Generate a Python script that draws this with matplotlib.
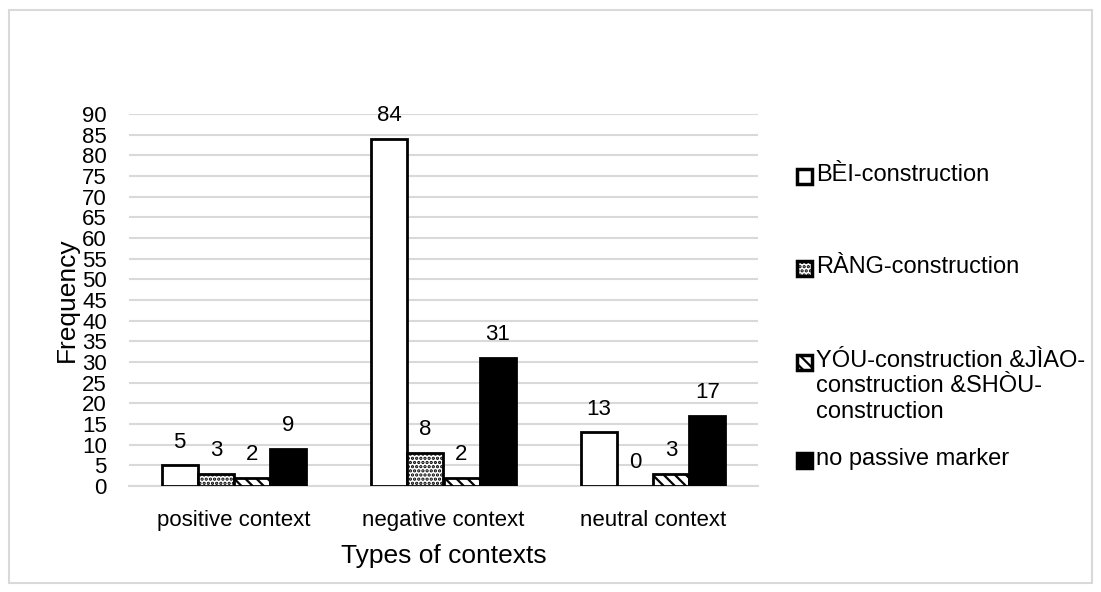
import matplotlib
matplotlib.use("Agg")
import matplotlib.pyplot as plt
from matplotlib.patches import Rectangle
import numpy as np

categories = ["positive context", "negative context", "neutral context"]
series_names = ["BÈI-construction", "RÀNG-construction",
                "YÓU-construction &JÌAO-\nconstruction &SHÒU-\nconstruction",
                "no passive marker"]
bei = [5, 84, 13]
rang = [3, 8, 0]
you = [2, 2, 3]
none_ = [9, 31, 17]
yticks = list(range(0, 95, 5))

plt.rcParams['font.family'] = ['Liberation Sans', 'DejaVu Sans']
plt.rcParams['hatch.linewidth'] = 1.6

W, H = 1101, 592
fig = plt.figure(figsize=(W / 100, H / 100), dpi=100)
ax = fig.add_axes([129 / W, 1 - 486 / H, (758 - 129) / W, (486 - 114) / H])

styles = [
    dict(facecolor="white", edgecolor="black", hatch=None),
    dict(facecolor="white", edgecolor="black", hatch="...."),
    dict(facecolor="white", edgecolor="black", hatch="\\\\\\"),
    dict(facecolor="black", edgecolor="black", hatch=None),
]
data = [bei, rang, you, none_]
x = np.arange(len(categories))
bw = 0.172
for i, (vals, st) in enumerate(zip(data, styles)):
    xs = x + (i - 1.5) * bw
    bars = ax.bar(xs, vals, width=bw, facecolor=st["facecolor"],
                  edgecolor=st["edgecolor"], hatch=st["hatch"],
                  linewidth=2.0, zorder=3)
    for b, v in zip(bars, vals):
        ax.annotate(str(v), (b.get_x() + b.get_width() / 2, v),
                    xytext=(0, 9), textcoords="offset points",
                    ha="center", va="bottom", fontsize=16, clip_on=False)

ax.set_xlim(-0.5, 2.5)
ax.set_ylim(0, 90)
ax.set_yticks(yticks)
ax.set_yticklabels([str(t) for t in yticks], fontsize=16)
ax.set_xticks(x)
ax.set_xticklabels(categories, fontsize=16)
ax.tick_params(axis='y', length=0, pad=16)
ax.tick_params(axis='x', length=0, pad=17)
ax.grid(axis='y', color="#d9d9d9", linewidth=1.5, zorder=0)
for s in ["top", "right", "left"]:
    ax.spines[s].set_visible(False)
ax.spines["bottom"].set_color("#d9d9d9")
ax.spines["bottom"].set_linewidth(1.5)
ax.set_axisbelow(True)
ax.set_ylabel("Frequency", fontsize=19, labelpad=2)
ax.set_xlabel("Types of contexts", fontsize=19, labelpad=10)

# legend (manual, Excel-like layout)
leg_y = [176, 268, 362, 460]
for (name, st, yy) in zip(series_names, styles, leg_y):
    sz = 15
    r = Rectangle(((797) / W, 1 - (yy + sz / 2) / H), sz / W, sz / H,
                  transform=fig.transFigure, facecolor=st["facecolor"],
                  edgecolor="black", hatch=st["hatch"], linewidth=2.5)
    fig.patches.append(r)
    fig.text(816 / W, 1 - (yy - 12) / H, name, fontsize=17, va="top",
             ha="left", linespacing=1.2)

# outer border
fig.patches.append(Rectangle((9 / W, 1 - 583 / H), (1092 - 9) / W, (583 - 10) / H,
                             transform=fig.transFigure, fill=False,
                             edgecolor="#d9d9d9", linewidth=1.5))

fig.savefig("out.png", dpi=100)
